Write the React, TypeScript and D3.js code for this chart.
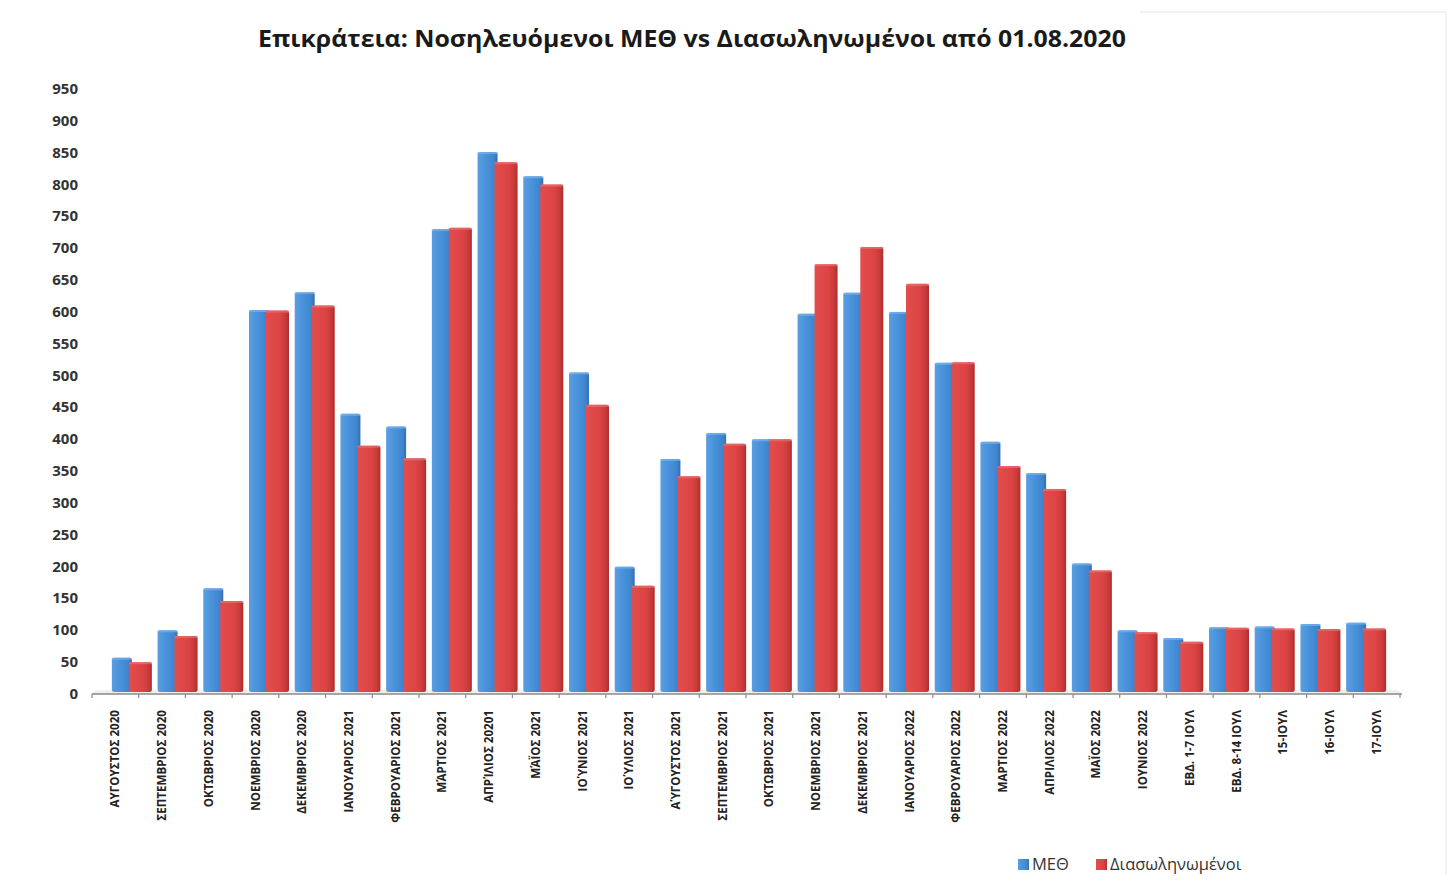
import React from "react";
import * as d3 from "d3";

const categories = [
  "ΑΥΓΟΥΣΤΟΣ 2020", "ΣΕΠΤΕΜΒΡΙΟΣ 2020", "ΟΚΤΩΒΡΙΟΣ 2020", "ΝΟΕΜΒΡΙΟΣ 2020",
  "ΔΕΚΕΜΒΡΙΟΣ 2020", "ΙΑΝΟΥΑΡΙΟΣ 2021", "ΦΕΒΡΟΥΑΡΙΟΣ 2021", "ΜΆΡΤΙΟΣ 2021",
  "ΑΠΡΊΛΙΟΣ 20201", "ΜΆΪΟΣ 2021", "ΙΟΎΝΙΟΣ 2021", "ΙΟΎΛΙΟΣ 2021",
  "ΑΎΓΟΥΣΤΟΣ 2021", "ΣΕΠΤΕΜΒΡΙΟΣ 2021", "ΟΚΤΩΒΡΙΟΣ 2021", "ΝΟΕΜΒΡΙΟΣ 2021",
  "ΔΕΚΕΜΒΡΙΟΣ 2021", "ΙΑΝΟΥΑΡΙΟΣ 2022", "ΦΕΒΡΟΥΑΡΙΟΣ 2022", "ΜΑΡΤΙΟΣ 2022",
  "ΑΠΡΙΛΙΟΣ 2022", "ΜΑΪΟΣ 2022", "ΙΟΥΝΙΟΣ 2022", "ΕΒΔ. 1-7 ΙΟΥΛ",
  "ΕΒΔ. 8-14 ΙΟΥΛ", "15-ΙΟΥΛ", "16-ΙΟΥΛ", "17-ΙΟΥΛ",
];

const meth = [57, 100, 166, 603, 631, 440, 420, 730, 851, 813, 505, 200, 369, 410, 400, 597, 630, 600, 520, 396, 347, 205, 100, 88, 105, 106, 110, 112];
const intubated = [50, 91, 146, 602, 610, 390, 370, 732, 835, 800, 454, 170, 342, 393, 400, 675, 702, 644, 521, 358, 322, 194, 97, 82, 104, 103, 102, 103];

const yTicks = d3.range(0, 951, 50);

const seriesNames = ["ΜΕΘ", "Διασωληνωμένοι"];
const title = "Επικράτεια: Νοσηλευόμενοι ΜΕΘ  vs  Διασωληνωμένοι  από  01.08.2020";

export default function App() {
  const W = 1450, H = 880;
  const y = d3.scaleLinear().domain([0, 950]).range([694, 89]);
  // floor front edge (labels & ticks)
  const xFront = d3.scaleBand<string>().domain(categories).range([92, 1400]).padding(0);
  // back plane (bars)
  const xBack = d3.scaleBand<string>().domain(categories).range([109, 1389]).padding(0);
  const baseY = 692;
  const font = "'Open Sans', 'Noto Sans', sans-serif";

  return (
    <svg width={W} height={H} style={{ position: "absolute", left: 0, top: 0, background: "#fff" }}
      xmlns="http://www.w3.org/2000/svg">
      <defs>
        <linearGradient id="gBlue" x1="0" x2="1" y1="0" y2="0">
          <stop offset="0" stopColor="#5a9ee0" />
          <stop offset="0.35" stopColor="#4b94dc" />
          <stop offset="0.8" stopColor="#3f86cf" />
          <stop offset="1" stopColor="#3470b5" />
        </linearGradient>
        <linearGradient id="gRed" x1="0" x2="1" y1="0" y2="0">
          <stop offset="0" stopColor="#e34d4d" />
          <stop offset="0.6" stopColor="#dc4444" />
          <stop offset="0.85" stopColor="#c93a3a" />
          <stop offset="1" stopColor="#a92e2e" />
        </linearGradient>
      </defs>
      <rect x={0} y={0} width={W} height={H} fill="#fff" />
      <line x1={1140} y1={12} x2={1446} y2={12} stroke="#e4e4e4" />
      <line x1={1446} y1={12} x2={1446} y2={875} stroke="#e8e8e8" />

      <text x={692} y={47} textAnchor="middle" fontFamily={font} fontWeight={700}
        fontSize={24} fill="#1a1a1a" textLength={868} lengthAdjust="spacingAndGlyphs">
        {title}
      </text>

      {yTicks.map((t) => (
        <text key={t} x={78} y={y(t) + 5} textAnchor="end" fontFamily={font}
          fontWeight={700} fontSize={15} fill="#333">
          {t}
        </text>
      ))}

      {/* floor */}
      <path d={`M92,${baseY + 2} L1402,${baseY + 2} L1398,${baseY - 2} L96,${baseY - 2} Z`} fill="#efefef" />
      <line x1={92} y1={baseY + 2} x2={1402} y2={baseY + 2} stroke="#8a8a8a" strokeWidth={1.5} />
      {categories.map((c, i) => (
        <line key={"t" + i} x1={xFront(c)!} x2={xFront(c)!} y1={baseY + 2} y2={baseY + 6}
          stroke="#8a8a8a" strokeWidth={1.2} />
      ))}
      <line x1={1400} x2={1400} y1={baseY + 2} y2={baseY + 6} stroke="#8a8a8a" strokeWidth={1.2} />

      {categories.map((c, i) => {
        const cx = xBack(c)! + xBack.bandwidth() / 2;
        const yb = y(meth[i]);
        const yr = y(intubated[i]);
        return (
          <g key={"b" + i}>
            <rect x={cx - 20} y={yb} width={20} height={baseY - yb} rx={2.5} fill="url(#gBlue)" />
            <rect x={cx - 20} y={yb} width={20} height={2} fill="#79b3ea" opacity={0.7} />
            <rect x={cx - 3} y={yr} width={23} height={baseY - yr} rx={2.5} fill="url(#gRed)" />
            <rect x={cx - 3} y={yr} width={23} height={2} fill="#ea7070" opacity={0.7} />
          </g>
        );
      })}

      {categories.map((c, i) => {
        const lx = xFront(c)! + xFront.bandwidth() / 2 + 4;
        return (
          <text key={"l" + i} transform={`translate(${lx},710) rotate(-90)`} textAnchor="end"
            fontFamily={font} fontWeight={700} fontSize={11.6} fill="#222">
            {c}
          </text>
        );
      })}

      {/* legend */}
      <rect x={1018} y={859} width={11} height={11} fill="url(#gBlue)" />
      <text x={1032} y={870} fontFamily={font} fontSize={16.5} fill="#333">{seriesNames[0]}</text>
      <rect x={1096} y={859} width={11} height={11} fill="url(#gRed)" />
      <text x={1110} y={870} fontFamily={font} fontSize={16.5} fill="#333">{seriesNames[1]}</text>
    </svg>
  );
}
